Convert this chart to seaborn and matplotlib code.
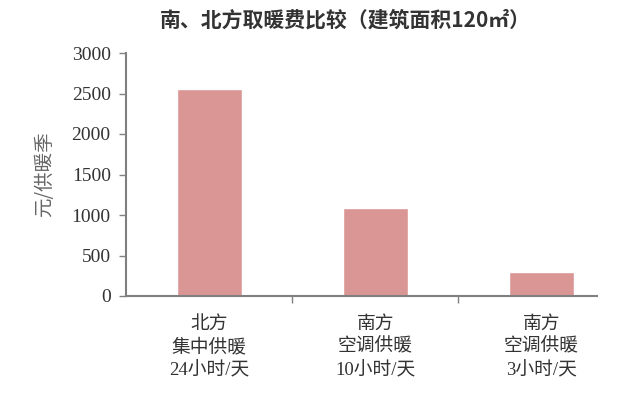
import matplotlib
matplotlib.use("Agg")
import matplotlib.pyplot as plt
import seaborn as sns
import pandas as pd

categories = ["北方\n集中供暖\n24小时/天", "南方\n空调供暖\n10小时/天", "南方\n空调供暖\n3小时/天"]
values = [2550, 1085, 300]
yticks = [0, 500, 1000, 1500, 2000, 2500, 3000]
title = "南、北方取暖费比较（建筑面积120㎡）"
ylabel = "元/供暖季"

sns.set_theme(style="white")
plt.rcParams['font.family'] = ['Liberation Serif', 'Noto Sans CJK SC', 'DejaVu Sans']

df = pd.DataFrame({"cat": categories, "val": values})

fig = plt.figure(figsize=(6.39, 4.01), dpi=100)
ax = fig.add_axes([126/639, 1-296/401, (597-126)/639, (296-53)/401])
sns.barplot(data=df, x="cat", y="val", color="#D99694", width=0.39, saturation=1, ax=ax)

ax.set_ylim(0, 3000)
ax.set_xlim(-0.5, 2.334)
ax.set_yticks(yticks)
ax.set_yticklabels([str(t) for t in yticks], fontsize=14, color="#333333",
                   family=['Liberation Serif'])
ax.set_xticks([0, 1, 2])
ax.set_xticklabels(categories, fontsize=13.5, color="#333333", linespacing=1.42,
                   family=['Liberation Serif', 'Noto Sans CJK SC'])
ax.set_xticks([0.5, 1.5], minor=True)
ax.tick_params(axis='x', which='major', length=0, pad=14)
ax.tick_params(axis='x', which='minor', length=5, width=1, color="#808080", direction='out', bottom=True)
ax.tick_params(axis='y', length=5, width=1, color="#808080", direction='out', left=True, pad=6)

for s in ["top", "right"]:
    ax.spines[s].set_visible(False)
for s in ["left", "bottom"]:
    ax.spines[s].set_color("#808080")
    ax.spines[s].set_linewidth(1.5)

ax.set_xlabel("")
ax.set_ylabel(ylabel, fontsize=14, color="#666666", family=['Noto Sans CJK SC'], labelpad=12)
fig.text(345/639, 1-20/401, title, ha="center", va="center", fontsize=15, fontweight="bold",
         color="#333333", family=['Noto Sans CJK SC', 'DejaVu Sans'])

fig.savefig("out.png", dpi=100, facecolor="white")
